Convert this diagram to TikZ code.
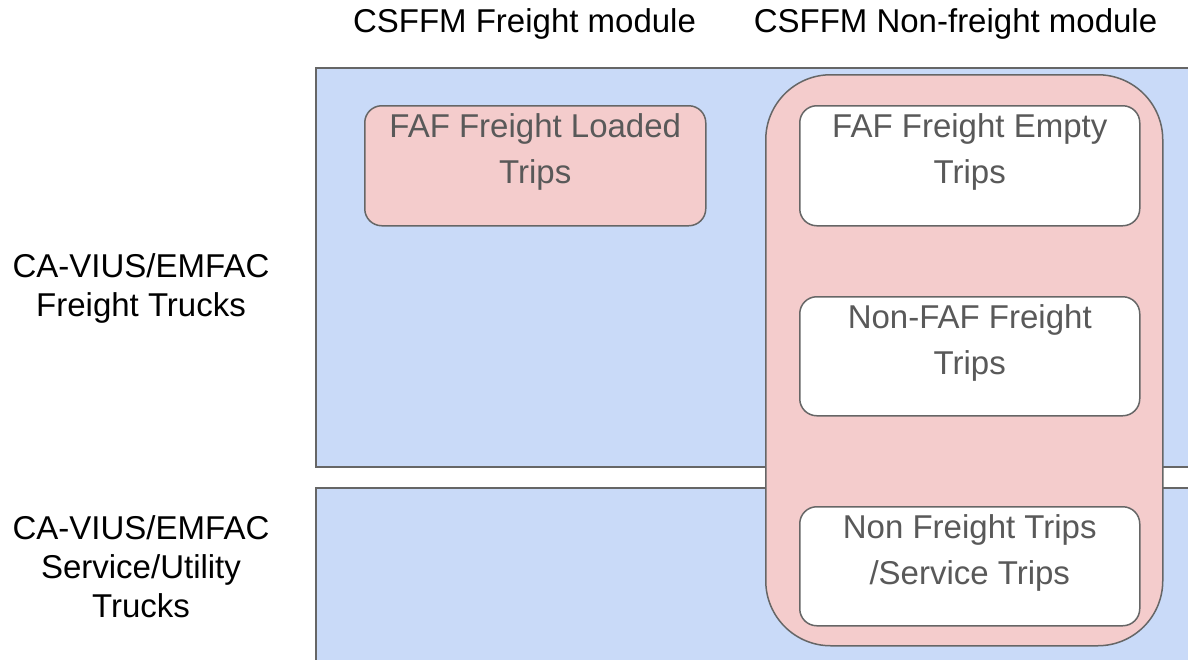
\documentclass[tikz,border=0pt]{standalone}
\usepackage{fontspec}
\setmainfont{Liberation Sans}
\definecolor{laneblue}{HTML}{C9DAF8}
\definecolor{tripred}{HTML}{F4CCCC}
\definecolor{edgegrey}{HTML}{666666}
\definecolor{labelgrey}{HTML}{595959}
\begin{document}
\begin{tikzpicture}[x=1pt,y=-1pt,
  lane/.style={rectangle, draw=edgegrey, line width=2pt, fill=laneblue, inner sep=0pt, anchor=north west},
  group/.style={rectangle, draw=edgegrey, line width=1.5pt, fill=tripred, rounded corners=65pt, inner sep=0pt, anchor=north west},
  tripbox/.style={rectangle, draw=edgegrey, line width=1.5pt, rounded corners=17pt, inner sep=0pt, anchor=north west},
  triptext/.style={align=center, text=labelgrey, font=\fontsize{33}{45.5}\selectfont, inner sep=0pt},
  heading/.style={align=center, font=\fontsize{33}{39}\selectfont, inner sep=0pt}]
\useasboundingbox (0,0) rectangle (1188,659);
\clip (0,0) rectangle (1188,659);

% truck-class lanes
\node[lane, minimum width=900pt, minimum height=399pt] (freightlane) at (315,67) {};
\node[lane, minimum width=900pt, minimum height=300pt] (servicelane) at (315,487) {};

% non-freight module group
\node[group, minimum width=397pt, minimum height=571pt] (nonfreight) at (765,74) {};

% trip boxes
\node[tripbox, fill=tripred, minimum width=341pt, minimum height=120pt] (loaded) at (364,105) {};
\node[tripbox, fill=white, minimum width=340pt, minimum height=120pt] (empty) at (799,105) {};
\node[tripbox, fill=white, minimum width=340pt, minimum height=119pt] (nonfaf) at (799,296) {};
\node[tripbox, fill=white, minimum width=340pt, minimum height=119pt] (service) at (799,506) {};

\node[triptext] (loadedtxt) at ([yshift=14pt]loaded.center) {FAF Freight Loaded\\Trips};
\node[triptext] (emptytxt) at ([yshift=14pt]empty.center) {FAF Freight Empty\\Trips};
\node[triptext] (nonfaftxt) at ([yshift=13.5pt]nonfaf.center) {Non-FAF Freight\\Trips};
\node[triptext] (servicetxt) at ([yshift=13.5pt]service.center) {Non Freight Trips\\/Service Trips};

% column headings
\node[heading] (freighthead) at (524.5,24) {CSFFM Freight module};
\node[heading] (nonfreighthead) at (955.5,24) {CSFFM Non-freight module};

% row headings
\node[heading] (freightrow) at (141,288) {CA-VIUS/EMFAC\\Freight Trucks};
\node[heading] (servicerow) at (141,567) {CA-VIUS/EMFAC\\Service/Utility\\Trucks};
\end{tikzpicture}
\end{document}
